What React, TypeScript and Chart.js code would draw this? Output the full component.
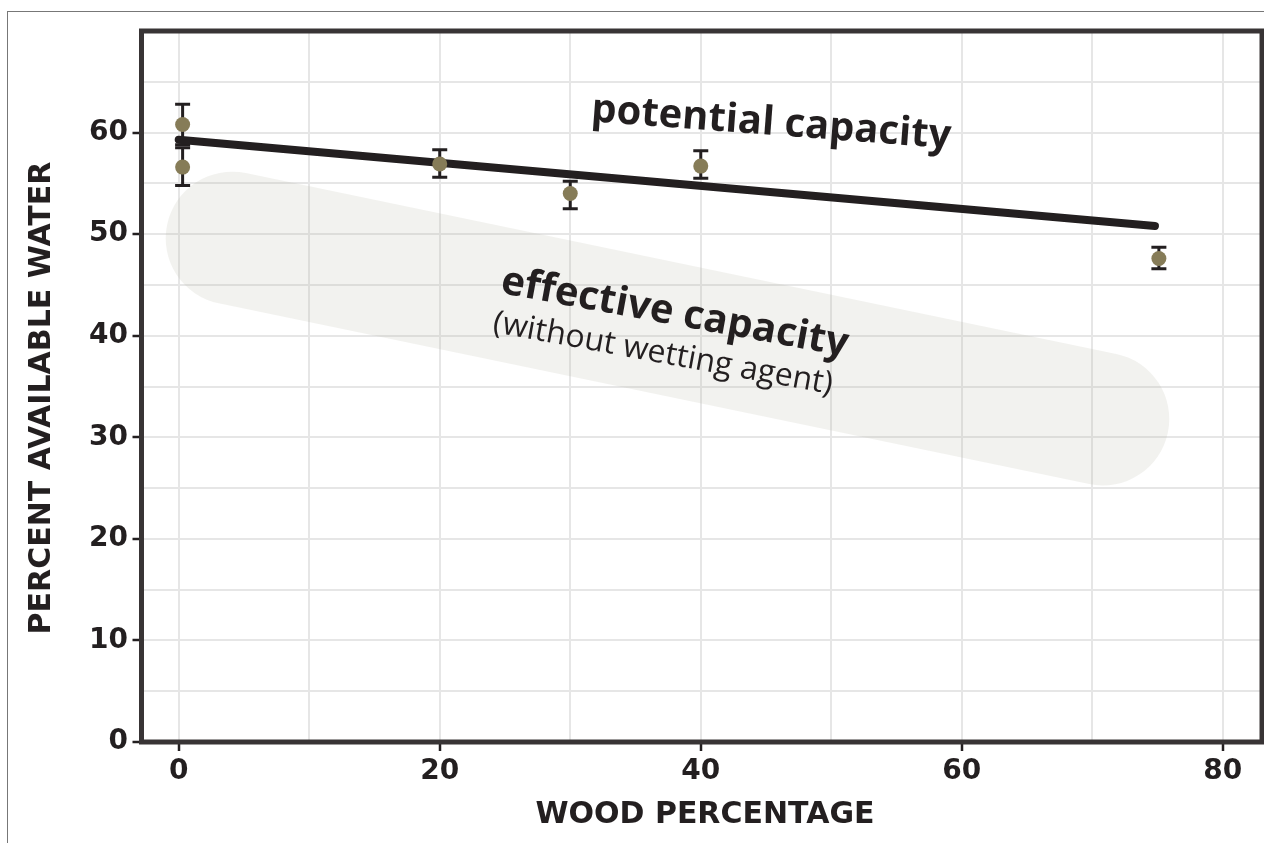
import { useEffect, useRef } from "react";
import { Chart, registerables } from "chart.js";

Chart.register(...registerables);

// ---- data ----
const woodPercentage = [0.3, 0.3, 20, 30, 40, 75.1];
const availableWater = [60.8, 56.6, 56.9, 54.0, 56.7, 47.6];
const errorLow = [58.8, 54.8, 55.6, 52.5, 55.5, 46.6];
const errorHigh = [62.8, 58.5, 58.3, 55.2, 58.2, 48.7];

const potentialX = [0, 74.8];
const potentialY = [59.3, 50.8];

const effectiveX = [4.1, 70.8];
const effectiveY = [49.6, 31.8];

const xTicks = [0, 10, 20, 30, 40, 50, 60, 70, 80];
const xLabelled = [0, 20, 40, 60, 80];
const yTicks = [0, 5, 10, 15, 20, 25, 30, 35, 40, 45, 50, 55, 60, 65, 70];
const yLabelled = [0, 10, 20, 30, 40, 50, 60];

const xTitle = "WOOD PERCENTAGE";
const yTitle = "PERCENT AVAILABLE WATER";

const annotations = [
  { text: "potential capacity", x: 45.4, y: 60.9, angle: 4.3, font: "bold 40px 'Open Sans'" },
  { text: "effective capacity", x: 38.0, y: 42.2, angle: 10.4, font: "bold 40px 'Open Sans'" },
  { text: "(without wetting agent)", x: 37.1, y: 38.2, angle: 10.4, font: "32px 'Open Sans'" },
];

const INK = "#231f20";
const POINT = "#867c58";
const GRID = "#e6e6e6";
const BAND = "rgba(180,175,160,0.17)";
const FRAME = "#383435";

const tickFont = { family: "'DejaVu Sans'", weight: "bold" as const, size: 28 };

export default function App() {
  const canvasRef = useRef<HTMLCanvasElement | null>(null);

  useEffect(() => {
    const canvas = canvasRef.current;
    if (!canvas) return;

    const errorBars = {
      id: "errorBars",
      afterDatasetDraw(chart: any, args: any) {
        if (args.index !== 2) return;
        const { ctx, scales } = chart;
        ctx.save();
        ctx.strokeStyle = INK;
        ctx.lineWidth = 3;
        woodPercentage.forEach((xv, i) => {
          const px = scales.x.getPixelForValue(xv);
          const yl = scales.y.getPixelForValue(errorLow[i]);
          const yh = scales.y.getPixelForValue(errorHigh[i]);
          ctx.beginPath();
          ctx.moveTo(px, yl);
          ctx.lineTo(px, yh);
          ctx.moveTo(px - 7.5, yl);
          ctx.lineTo(px + 7.5, yl);
          ctx.moveTo(px - 7.5, yh);
          ctx.lineTo(px + 7.5, yh);
          ctx.stroke();
        });
        ctx.restore();
      },
    };

    const decorations = {
      id: "decorations",
      afterDatasetsDraw(chart: any) {
        const { ctx, scales } = chart;
        ctx.save();
        ctx.fillStyle = INK;
        ctx.textAlign = "center";
        ctx.textBaseline = "middle";
        annotations.forEach((a) => {
          const px = scales.x.getPixelForValue(a.x);
          const py = scales.y.getPixelForValue(a.y);
          ctx.save();
          ctx.translate(px, py);
          ctx.rotate((a.angle * Math.PI) / 180);
          ctx.font = a.font;
          ctx.fillText(a.text, 0, 0);
          ctx.restore();
        });
        ctx.restore();
      },
      afterDraw(chart: any) {
        const { ctx, chartArea } = chart;
        ctx.save();
        ctx.strokeStyle = FRAME;
        ctx.lineWidth = 5;
        ctx.strokeRect(
          chartArea.left,
          chartArea.top,
          chartArea.right - chartArea.left,
          chartArea.bottom - chartArea.top
        );
        ctx.fillStyle = INK;
        ctx.textAlign = "center";
        ctx.textBaseline = "middle";
        ctx.font = "bold 30px 'DejaVu Sans'";
        ctx.fillText(xTitle, 705, 815);
        ctx.save();
        ctx.translate(42, 398);
        ctx.rotate(-Math.PI / 2);
        ctx.fillText(yTitle, 0, 0);
        ctx.restore();
        ctx.restore();
      },
    };

    const chart = new Chart(canvas, {
      type: "scatter",
      data: {
        datasets: [
          {
            label: "measured",
            data: woodPercentage.map((x, i) => ({ x, y: availableWater[i] })),
            pointRadius: 7.5,
            pointHoverRadius: 7.5,
            pointBackgroundColor: POINT,
            pointBorderWidth: 0,
            showLine: false,
          },
          {
            label: "potential capacity",
            data: potentialX.map((x, i) => ({ x, y: potentialY[i] })),
            showLine: true,
            borderColor: INK,
            borderWidth: 8,
            borderCapStyle: "round",
            pointRadius: 0,
          },
          {
            label: "effective capacity",
            data: effectiveX.map((x, i) => ({ x, y: effectiveY[i] })),
            showLine: true,
            borderColor: BAND,
            borderWidth: 133,
            borderCapStyle: "round",
            pointRadius: 0,
          },
        ],
      },
      options: {
        responsive: false,
        animation: false,
        events: [],
        layout: { autoPadding: false, padding: { top: 31, right: 2, left: 0, bottom: 0 } },
        plugins: {
          legend: { display: false },
          tooltip: { enabled: false },
        },
        scales: {
          x: {
            type: "linear",
            min: -2.85,
            max: 83,
            afterBuildTicks: (s: any) => {
              s.ticks = xTicks.map((v) => ({ value: v }));
            },
            afterFit: (s: any) => {
              s.height = 101;
              s.paddingLeft = 0;
              s.paddingRight = 0;
            },
            ticks: {
              autoSkip: false,
              maxRotation: 0,
              padding: 4,
              color: INK,
              font: tickFont,
              callback: (v: any) => (xLabelled.includes(Number(v)) ? String(v) : ""),
            },
            grid: {
              color: GRID,
              lineWidth: 2,
              tickLength: 9,
              tickWidth: 2.5,
              tickColor: (c: any) =>
                c.tick && xLabelled.includes(c.tick.value) ? INK : "rgba(0,0,0,0)",
            },
            border: { display: false },
          },
          y: {
            type: "linear",
            min: 0,
            max: 70,
            afterBuildTicks: (s: any) => {
              s.ticks = yTicks.map((v) => ({ value: v }));
            },
            afterFit: (s: any) => {
              s.width = 141.5;
              s.paddingTop = 0;
              s.paddingBottom = 0;
            },
            ticks: {
              autoSkip: false,
              padding: 4.5,
              color: INK,
              font: tickFont,
              callback: (v: any) => (yLabelled.includes(Number(v)) ? String(v) : ""),
            },
            grid: {
              color: GRID,
              lineWidth: 2,
              tickLength: 9,
              tickWidth: 2.5,
              tickColor: (c: any) =>
                c.tick && yLabelled.includes(c.tick.value) ? INK : "rgba(0,0,0,0)",
            },
            border: { display: false },
          },
        },
      },
      plugins: [errorBars, decorations],
    } as any);

    return () => chart.destroy();
  }, []);

  return (
    <div style={{ position: "absolute", left: 0, top: 0, width: 1264, height: 843, overflow: "hidden", background: "#fff" }}>
      <div
        style={{
          position: "absolute",
          left: 7,
          top: 11,
          width: 1257,
          height: 832,
          borderTop: "1px solid #777",
          borderLeft: "1px solid #777",
          boxSizing: "border-box",
        }}
      />
      <canvas
        ref={canvasRef}
        width={1264}
        height={843}
        style={{ position: "absolute", left: 0, top: 0, display: "block" }}
      />
    </div>
  );
}
